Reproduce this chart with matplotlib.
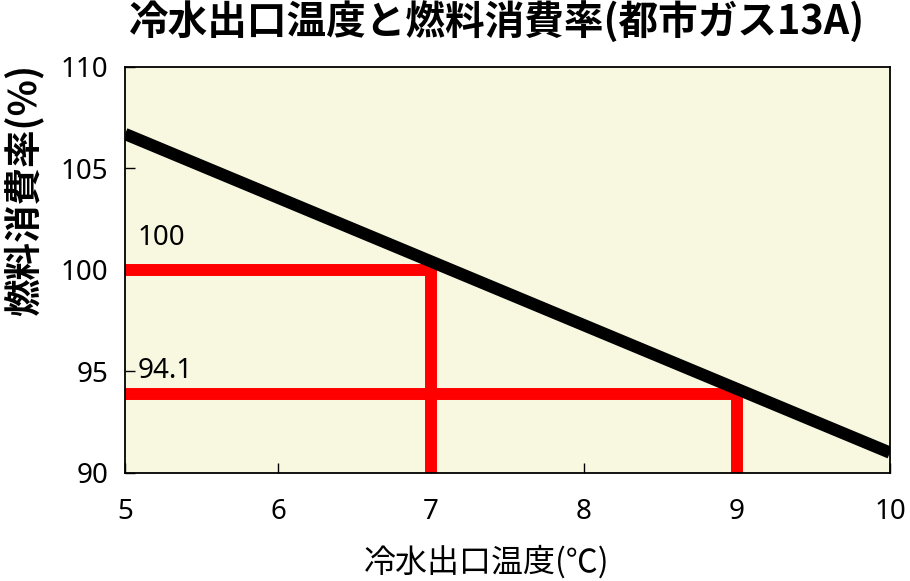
import matplotlib
matplotlib.use('Agg')
import matplotlib.pyplot as plt

plt.rcParams['font.family'] = ['Noto Sans CJK JP', 'DejaVu Sans']

# data
temp_line = [5, 10]
fuel_line = [106.7, 91.0]

ref_temp = [7, 9]
ref_fuel = [100.0, 93.9]
ref_labels = ['100', '94.1']
label_y = [101.6, 95.0]

x_ticks = [5, 6, 7, 8, 9, 10]
y_ticks = [90, 95, 100, 105, 110]

fig = plt.figure(figsize=(9.10, 5.81), dpi=100)
ax = fig.add_axes([0.1374, 0.1859, 0.8406, 0.6988])
ax.set_facecolor('#F8F8E0')

# red guide lines
for t, f in zip(ref_temp, ref_fuel):
    ax.plot([5, t, t], [f, f, 90], color='#FF0000', lw=8.6,
            solid_joinstyle='miter', solid_capstyle='butt', zorder=2)

ax.plot(temp_line, fuel_line, color='black', lw=8.8,
        solid_capstyle='butt', zorder=3)

for lab, ly in zip(ref_labels, label_y):
    ax.text(5.08, ly, lab, fontsize=20, family='Noto Sans',
            va='center', ha='left')

ax.set_xlim(5, 10)
ax.set_ylim(90, 110)
ax.set_xticks(x_ticks)
ax.set_yticks(y_ticks)
ax.tick_params(direction='in', length=7, width=1, labelsize=20)
ax.tick_params(axis='x', pad=18)
ax.tick_params(axis='y', pad=12)
for lab in ax.get_xticklabels() + ax.get_yticklabels():
    lab.set_family('Noto Sans')
for s in ax.spines.values():
    s.set_linewidth(1.3)

fig.text(0.546, 0.962, '冷水出口温度と燃料消費率(都市ガス13A)',
         fontsize=28.5, fontweight='bold', ha='center', va='center')
fig.text(0.026, 0.673, '燃料消費率(%)', fontsize=27, fontweight='bold',
         rotation=90, ha='center', va='center')
fig.text(0.535, 0.033, '冷水出口温度(℃)', fontsize=23,
         ha='center', va='center')

fig.savefig('out.png', dpi=100)
